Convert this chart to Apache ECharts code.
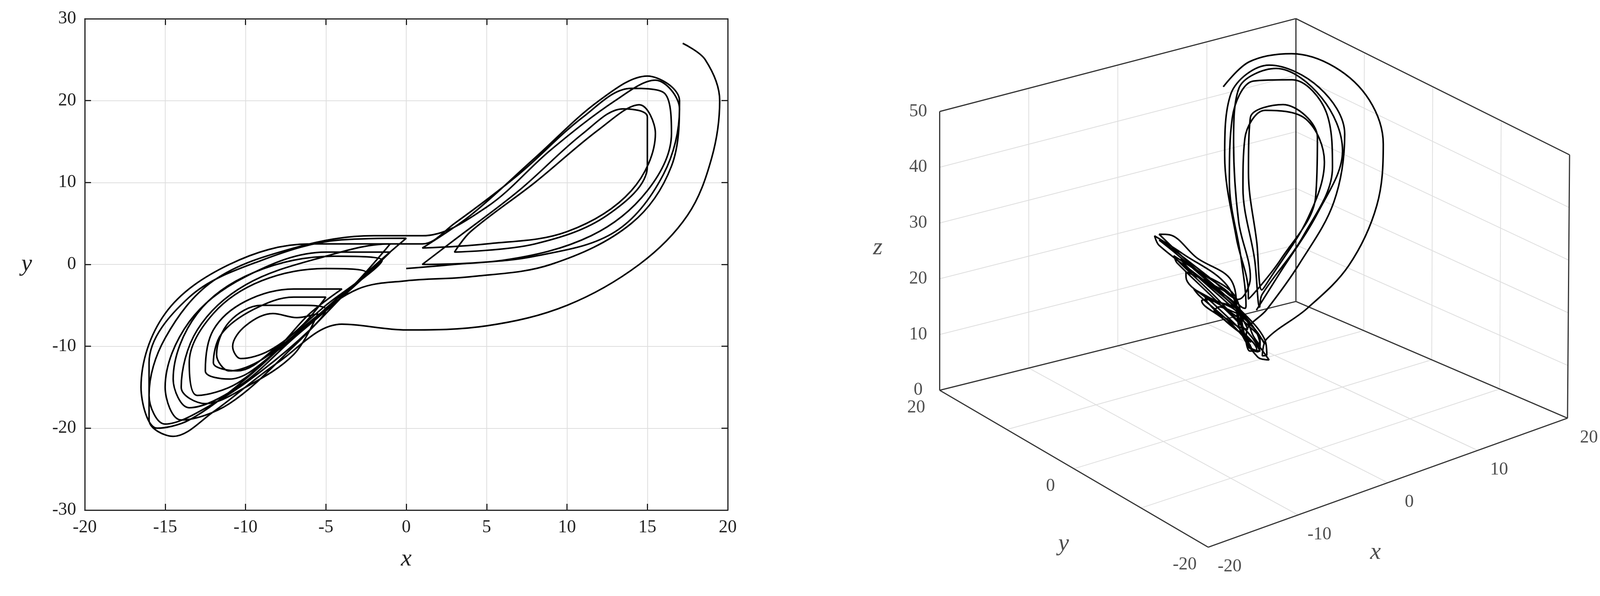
<!DOCTYPE html>
<html>
<head>
<meta charset="utf-8">
<script src="https://cdn.jsdelivr.net/npm/echarts@6/dist/echarts.min.js"></script>
<style>html,body{margin:0;padding:0;background:#fff}#main{width:4145px;height:1526px}</style>
</head>
<body>
<div id="main"></div>
<script>
// trajectory (x, y, z)
var trajX = [17.2,18.6,19.5,19,17.5,14.5,10,5,0,-4,
  -8,-12,-14.5,-16,-16,-13.5,-9,-4,0,
  -3,-7,-11,-14,-15,-13.5,-10,-5,-1,
  -4,-7.5,-10.5,-13,-13.5,-12,-9,-5,-2.5,
  -5,-8,-10.5,-12,-11.5,-9.5,-7,-5,
  -6.5,-8.5,-10.3,-10.8,-10,-8.3,-6.8,
  -5.5,-7,-10,-12.5,-14,-13,-10,-5,-1,1,
  3,7,11,14,16,16.5,15,11.5,6,1,
  3,7,11,13.5,15,15,12.5,8,3,
  4,8,12,14.5,15.5,14,10,5,1,
  4,8,12,15,17,16.5,14,9,4,0,
  -3,-6,-10,-13.5,-15.5,-16.5,-15,-11,-6,-1,
  -3.5,-7,-10.5,-13.5,-14.5,-13,-9.5,-4.5,-1.5,
  -4.5,-8,-11,-12.5,-12,-10,-7,-4,
  -6,-8.5,-11,-11.8,-11,-9,-6.5,-5,
  -6,-9,-12,-15,-16,-15,-12,-7,-2,1,5,9,13,15.5,17,16,13,8,3,0];
var trajY = [27,25,20,13,6,0,-5,-7.5,-8,-7.3,
  -12,-18,-21,-19,-12,-4,0.5,3,3.2,
  -2,-10,-17,-19,-15,-7,-1.5,1.5,1.5,
  -4,-9.5,-14.5,-16,-12,-6,-2,-0.5,-1,
  -5,-10,-13,-12,-8.5,-5.5,-4,-4,
  -7.5,-10.5,-11.5,-10,-7.5,-6,-6.5,
  -6,-11,-15,-17,-15,-8,-2.5,1,2.5,2.5,
  5,11,18,21.5,21,16,9,3.5,0.5,0,
  3,9,16,19,18,12,6,2.5,1.5,
  4,10,16.5,19.5,16,9,4,2.5,2,
  6,13,20,23,20,12,5,0,-1.5,-2,
  -3,-7,-14,-19,-20,-15,-6,0,2.5,2.5,
  -3,-9,-15,-17.5,-14,-6,-1,1,0.5,
  -4.5,-10.5,-14,-13,-8,-4.5,-3,-3,
  -6,-11,-13,-11,-7,-5,-5,-5.5,
  -8,-13,-17,-19.5,-16,-9,-2,2,3.5,3.5,7,14,20,22.5,19,11,4,1,0,-0.5];
var trajZ = [35,40,44,46,45,42,36,29,24,20,
  22,28,34,39,42,41,36,28,22,
  18,20,26,32,37,38,34,27,21,
  19,21,26,31,34,34,31,26,22,
  21,23,27,30,31,29,26,24,
  24,26,28,29,28,27,25,
  23,23,27,32,36,37,34,27,21,17,
  15,18,26,34,40,43,42,37,29,21,
  16,19,26,32,37,39,36,30,22,
  18,21,28,35,39,38,32,24,19,
  17,20,29,37,43,44,41,34,26,20,
  18,20,25,31,37,41,41,37,30,22,
  19,21,26,32,36,37,33,25,20,
  20,22,27,31,32,30,26,22,
  22,24,28,30,30,28,25,23,
  22,25,30,36,40,41,38,31,23,18,18,22,31,38,43,43,39,32,24,19];

var ticks3X = [-20,-10,0,10,20];
var ticks3Y = [-20,-10,0,10,20];
var labels3Y = [-20,0,20];
var ticks3Z = [0,10,20,30,40,50];

var K = 4145 / 1568;
var serif = 'Liberation Serif';

// screen corners of the 3D box (x-20/20, y-20/20, z0/50), used as the projection scale
var C = {
  '000': [1170,530], '100': [1518,405], '010': [910,378], '110': [1255,292],
  '001': [1170,250], '101': [1520,150], '011': [910,108], '111': [1255,18]
};
function lerp(a, b, t) { return [a[0] + (b[0]-a[0])*t, a[1] + (b[1]-a[1])*t]; }
function P(x, y, z) {
  var u = (x + 20) / 40, v = (y + 20) / 40, w = z / 50;
  var a = lerp(lerp(C['000'], C['100'], u), lerp(C['010'], C['110'], u), v);
  var b = lerp(lerp(C['001'], C['101'], u), lerp(C['011'], C['111'], u), v);
  var p = lerp(a, b, w);
  return [p[0]*K, p[1]*K];
}

var traj2 = [], traj3 = [];
for (var i = 0; i < trajX.length; i++) {
  traj2.push([trajX[i], trajY[i]]);
  traj3.push(P(trajX[i], trajY[i], trajZ[i]));
}

// 3D box grid lines and edges
var gridSegs = [], edgeSegs = [];
ticks3X.slice(1,-1).forEach(function (t) {
  gridSegs.push([P(t,20,0), P(t,20,50)]);
  gridSegs.push([P(t,-20,0), P(t,20,0)]);
});
ticks3Y.slice(1,-1).forEach(function (t) {
  gridSegs.push([P(20,t,0), P(20,t,50)]);
  gridSegs.push([P(-20,t,0), P(20,t,0)]);
});
ticks3Z.slice(1,-1).forEach(function (t) {
  gridSegs.push([P(-20,20,t), P(20,20,t)]);
  gridSegs.push([P(20,20,t), P(20,-20,t)]);
});
edgeSegs.push([P(-20,20,0), P(-20,-20,0)]);
edgeSegs.push([P(-20,-20,0), P(20,-20,0)]);
edgeSegs.push([P(-20,20,0), P(20,20,0)]);
edgeSegs.push([P(20,20,0), P(20,-20,0)]);
edgeSegs.push([P(-20,20,0), P(-20,20,50)]);
edgeSegs.push([P(20,20,0), P(20,20,50)]);
edgeSegs.push([P(20,-20,0), P(20,-20,50)]);
edgeSegs.push([P(-20,20,50), P(20,20,50)]);
edgeSegs.push([P(20,20,50), P(20,-20,50)]);

function segSeries(segs, color, width) {
  var d = [];
  segs.forEach(function (s) { d.push(s[0], s[1], null); });
  return { type: 'line', xAxisIndex: 2, yAxisIndex: 2, data: d, showSymbol: false,
    connectNulls: false, silent: true, lineStyle: { color: color, width: width }, z: 1 };
}
function labelSeries(pts, fs, italic) {
  return { type: 'scatter', xAxisIndex: 2, yAxisIndex: 2, symbolSize: 1, silent: true,
    itemStyle: { color: 'rgba(0,0,0,0)' },
    data: pts.map(function (p) { return { value: [p[0], p[1]], name: p[2] }; }),
    label: { show: true, position: 'inside', formatter: '{b}', color: '#222',
      fontFamily: serif, fontSize: fs, fontStyle: italic ? 'italic' : 'normal' } };
}
var zLab = ticks3Z.map(function (t) { var p = P(-20,20,t); return [p[0]-55, p[1], String(t)]; });
var yLab = labels3Y.map(function (t) { var p = P(-20,t,0); return [p[0]-60, p[1]+45, String(t)]; });
var xLab = ticks3X.map(function (t) { var p = P(t,-20,0); return [p[0]+55, p[1]+50, String(t)]; });
var names3 = [[850*K, 240*K, 'z'], [1030*K, 527*K, 'y'], [1332*K, 535*K, 'x']];

var ax = { type: 'value', axisLine: { show: true, onZero: false, lineStyle: { color: '#222', width: 3 } },
  axisTick: { inside: true, length: 16, lineStyle: { color: '#222', width: 3 } } };
var chart = echarts.init(document.getElementById('main'));
chart.setOption({
  animation: false,
  backgroundColor: '#fff',
  grid: [
    { left: 217, right: 2282, top: 48, bottom: 220 },
    { left: 0, right: 0, top: 0, bottom: 0 }
  ],
  xAxis: [
    Object.assign({}, ax, { gridIndex: 0, min: -20, max: 20, interval: 5, position: 'bottom',
      name: 'x', nameLocation: 'middle', nameGap: 95,
      nameTextStyle: { fontFamily: serif, fontStyle: 'italic', fontSize: 62, color: '#222' },
      axisLabel: { fontFamily: serif, fontSize: 46, color: '#222', margin: 22 },
      splitLine: { show: true, lineStyle: { color: '#dedede', width: 2 } } }),
    Object.assign({}, ax, { gridIndex: 0, min: -20, max: 20, interval: 5, position: 'top',
      axisLabel: { show: false }, splitLine: { show: false } }),
    { gridIndex: 1, type: 'value', min: 0, max: 4145, show: false }
  ],
  yAxis: [
    Object.assign({}, ax, { gridIndex: 0, min: -30, max: 30, interval: 10, position: 'left',
      name: 'y', nameLocation: 'middle', nameGap: 135, nameRotate: 0,
      nameTextStyle: { fontFamily: serif, fontStyle: 'italic', fontSize: 62, color: '#222' },
      axisLabel: { fontFamily: serif, fontSize: 46, color: '#222', margin: 22 },
      splitLine: { show: true, lineStyle: { color: '#dedede', width: 2 } } }),
    Object.assign({}, ax, { gridIndex: 0, min: -30, max: 30, interval: 10, position: 'right',
      axisLabel: { show: false }, splitLine: { show: false } }),
    { gridIndex: 1, type: 'value', min: 0, max: 1526, inverse: true, show: false }
  ],
  series: [
    { type: 'line', xAxisIndex: 0, yAxisIndex: 0, data: traj2, smooth: 0.35, showSymbol: false,
      lineStyle: { color: '#000', width: 4 } },
    segSeries(gridSegs, '#dedede', 2),
    segSeries(edgeSegs, '#333', 3),
    { type: 'line', xAxisIndex: 2, yAxisIndex: 2, data: traj3, smooth: 0.35, showSymbol: false,
      lineStyle: { color: '#000', width: 4 }, z: 3 },
    labelSeries(zLab, 46, false),
    labelSeries(yLab, 46, false),
    labelSeries(xLab, 46, false),
    labelSeries(names3, 62, true)
  ]
});
</script>
</body>
</html>
